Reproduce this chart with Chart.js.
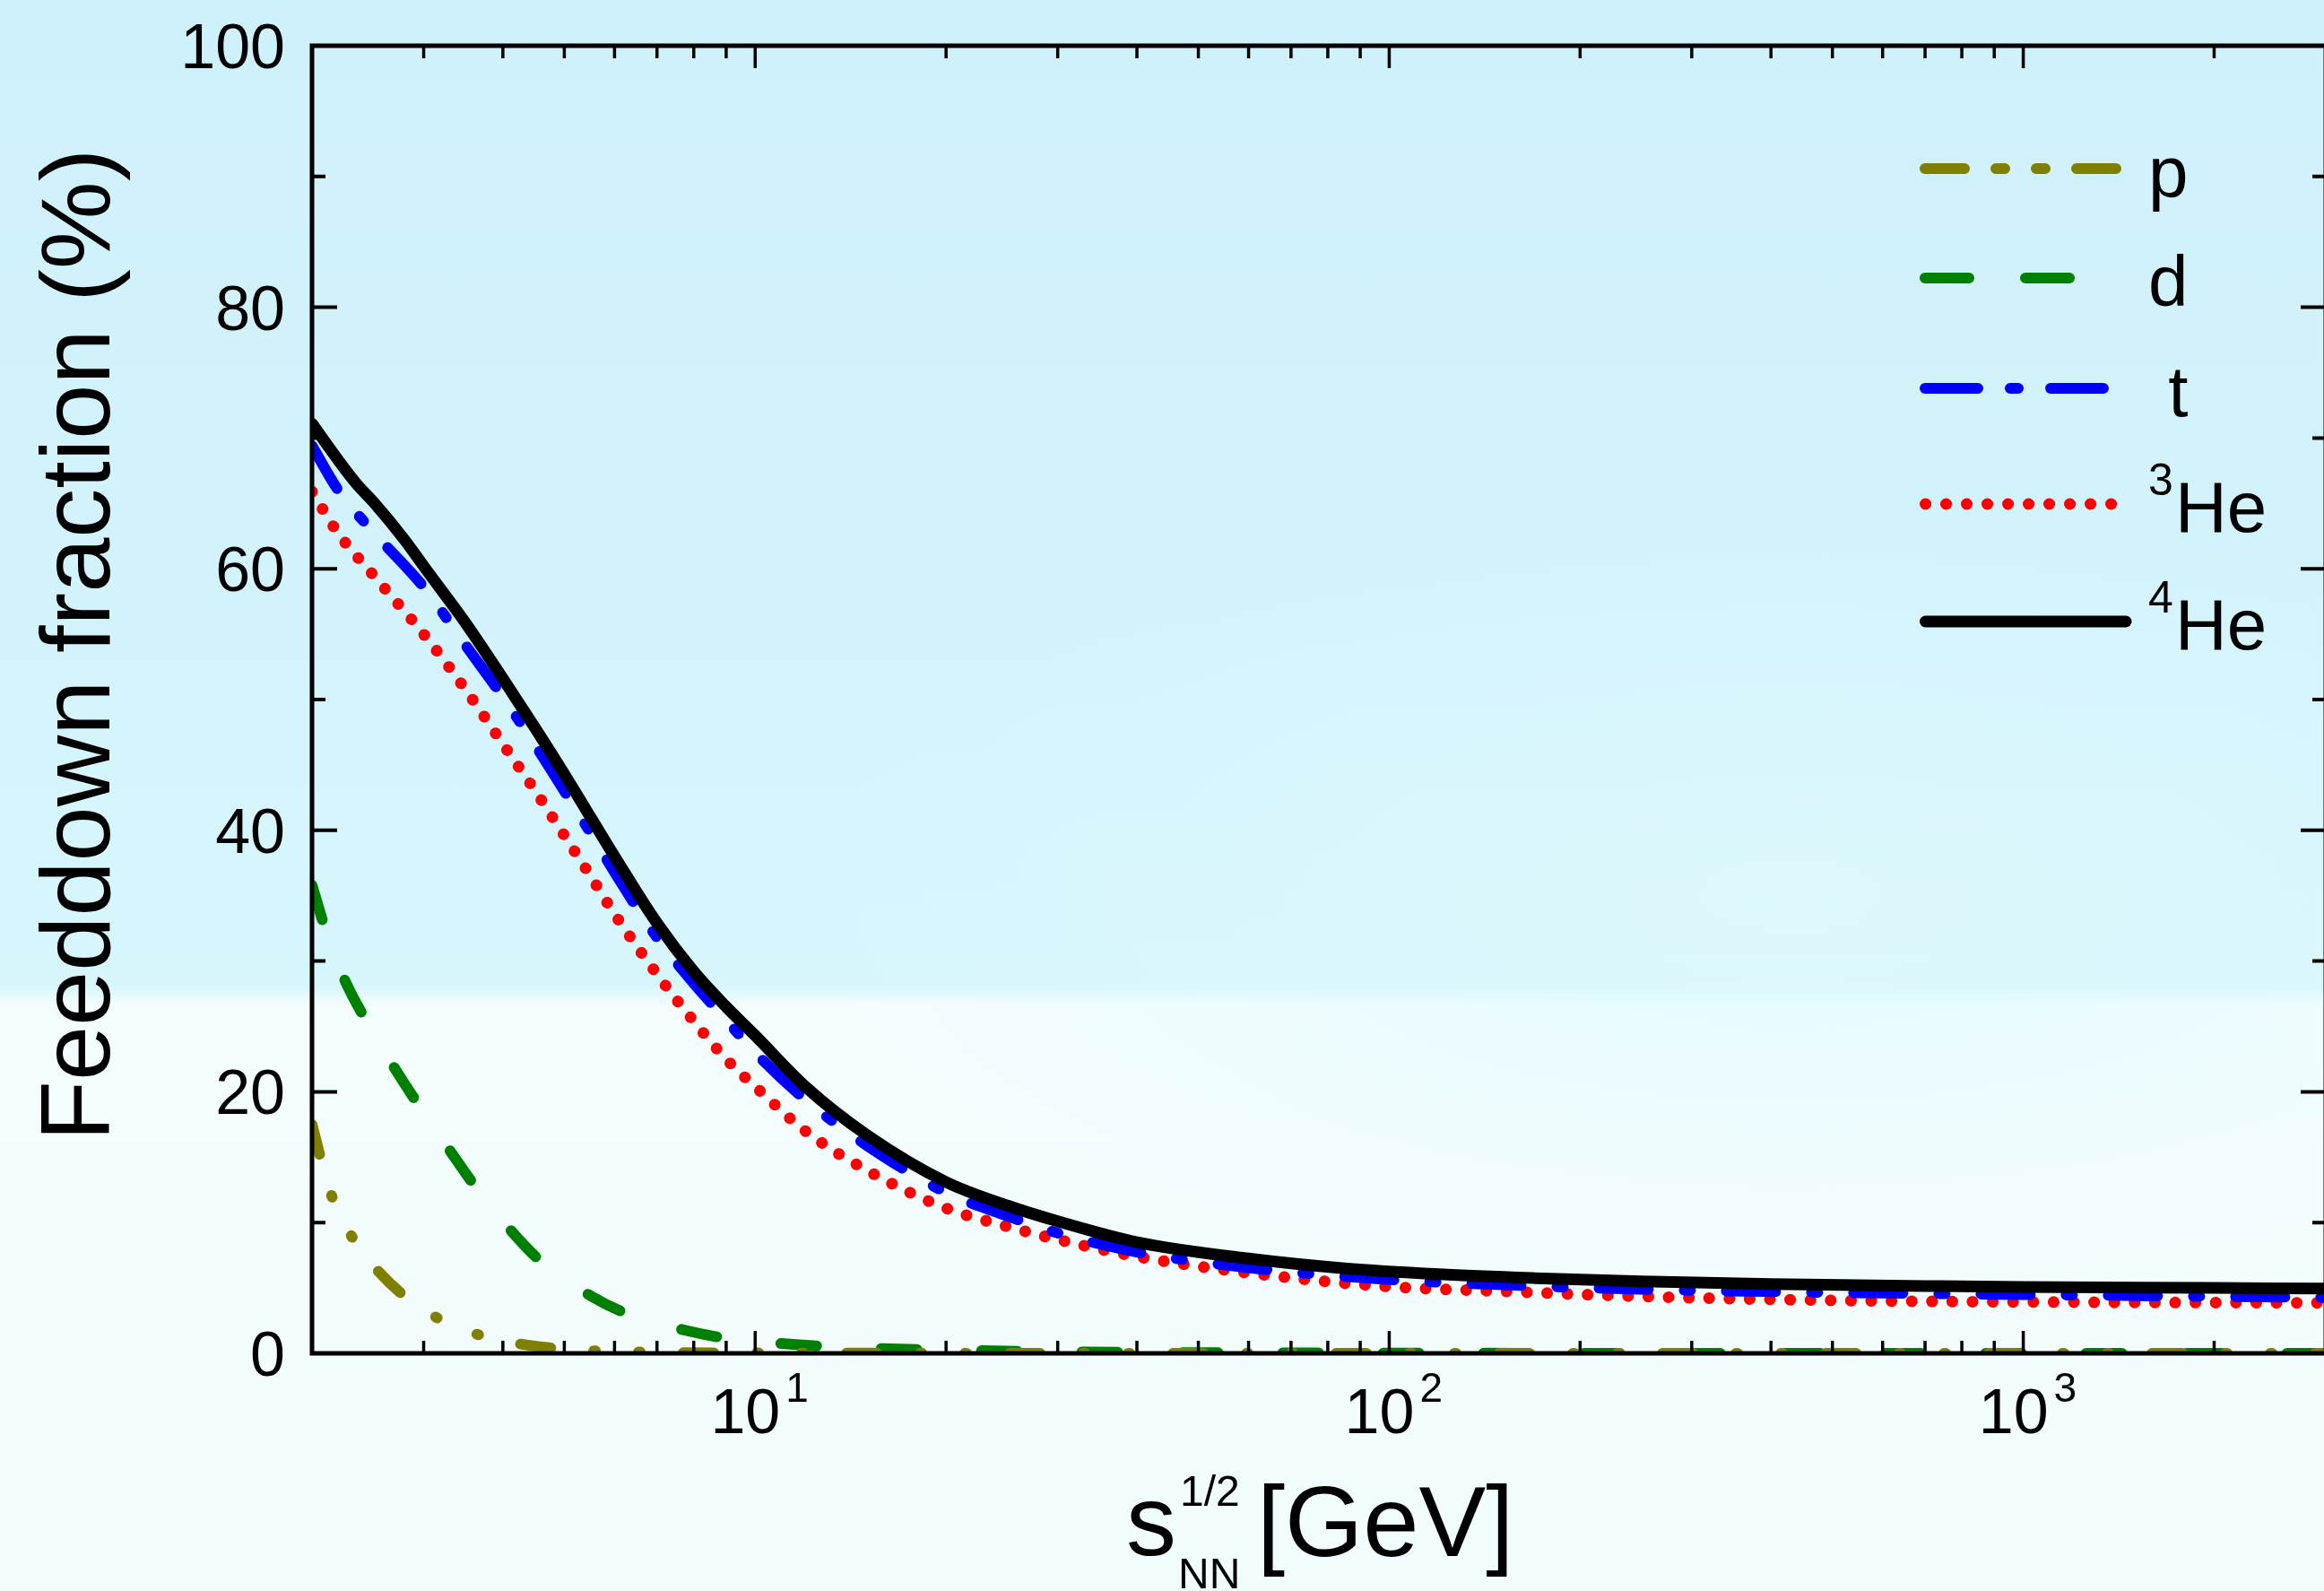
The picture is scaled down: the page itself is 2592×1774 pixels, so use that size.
<!DOCTYPE html>
<html>
<head>
<meta charset="utf-8">
<title>Feeddown fraction</title>
<script src="https://cdn.jsdelivr.net/npm/chart.js@4.4.1/dist/chart.umd.min.js"></script>
<style>
  html, body { margin: 0; padding: 0; overflow: hidden; }
  body {
    width: 2592px;
    height: 1774px;
    background:
      radial-gradient(ellipse 1100px 420px at 2000px 1000px, rgba(222, 249, 253, 0.75), rgba(222, 249, 253, 0)),
      linear-gradient(180deg, #cff1fb 0px, #d3f3fc 650px, #d7f6fc 1100px, #f4fdfe 1120px, #f1fcfd 1774px);
  }
  #wrap { width: 2592px; height: 1774px; overflow: hidden; }
</style>
</head>
<body>
<div id="wrap"><canvas id="chart" width="2600" height="1774"></canvas></div>
<script>
// sqrt(s_NN) in GeV and feeddown fraction in %
const pX = [2.0, 2.08, 2.15, 2.3, 2.5, 2.77, 3.05, 3.47, 4.0, 4.7, 5.5, 7, 10, 20, 50, 3000];
const pY = [17.5, 14.3, 12.0, 9.1, 6.7, 4.55, 3.1, 1.8, 0.96, 0.44, 0.2, 0.08, 0.03, 0.01, 0, 0];

const dX = [2.0, 2.1, 2.25, 2.45, 2.7, 3.0, 3.3, 3.6, 4.1, 4.6, 5.5, 6.3, 7.7, 9.0, 11, 13.3, 20, 30, 50, 100, 300, 3000];
const dY = [35.8, 32.4, 28.6, 25.2, 21.8, 18.4, 15.5, 12.9, 9.5, 7.0, 4.4, 3.0, 1.8, 1.15, 0.75, 0.5, 0.25, 0.12, 0.05, 0.02, 0, 0];

const tX = [2.0, 2.2, 2.5, 3.0, 3.5, 4.0, 4.5, 5.0, 5.5, 6.0, 7.0, 8.0, 9.0, 10, 12, 15, 20, 25, 30, 40, 60, 100, 170, 250, 400, 1000, 3000];
const tY = [69.4, 66.0, 62.8, 58.6, 54.1, 50.2, 46.5, 43.0, 39.8, 36.8, 31.8, 28.3, 25.5, 23.0, 19.4, 15.9, 12.3, 10.5, 9.2, 7.75, 6.55, 5.64, 5.15, 4.9, 4.72, 4.5, 4.27];

const he3X = [2.0, 2.2, 2.5, 3.0, 3.5, 4.0, 4.5, 5.0, 5.5, 6.0, 7.0, 8.0, 9.0, 10, 12, 15, 20, 25, 30, 40, 60, 100, 150, 250, 500, 1000, 3000];
const he3Y = [65.9, 62.7, 59.5, 55.0, 50.7, 46.6, 43.0, 39.6, 36.5, 33.6, 29.0, 25.4, 22.5, 20.4, 17.0, 14.0, 11.1, 9.7, 8.7, 7.4, 6.15, 5.1, 4.75, 4.35, 4.05, 3.93, 3.86];

const he4X = [2.0, 2.2, 2.35, 2.5, 2.8, 3.0, 3.5, 4.0, 4.5, 5.0, 5.5, 6.0, 7.0, 8.0, 9.0, 10, 12, 15, 20, 25, 30, 40, 60, 85, 120, 170, 250, 400, 700, 1000, 2000, 3000];
const he4Y = [71.1, 68.3, 66.5, 65.1, 62.2, 60.2, 55.8, 51.6, 47.8, 44.3, 41.0, 38.0, 32.9, 29.2, 26.5, 24.3, 20.4, 16.7, 13.1, 11.3, 10.1, 8.5, 7.25, 6.5, 6.05, 5.75, 5.5, 5.3, 5.15, 5.07, 5.0, 4.96];

const yMajorTicks = [0, 20, 40, 60, 80, 100];
const yMinorTicks = [10, 30, 50, 70, 90];
const xMajorTicks = [10, 100, 1000];
const xMajorLabels = ['1', '2', '3'];
const xMinorTicks = [3, 4, 5, 6, 7, 8, 9, 20, 30, 40, 50, 60, 70, 80, 90, 200, 300, 400, 500, 600, 700, 800, 900, 2000];

const FONT = '"Liberation Sans", Arial, sans-serif';

const pts = (xs, ys) => xs.map((v, i) => ({ x: v, y: ys[i] }));

const series = [
	{ sup: '', text: 'p', color: '#808000', width: 12, dash: [34, 48, 2, 48, 2, 48], legendDash: [44, 35, 10, 35, 10, 35], legendEnd: 2361, ly: 188, data: pts(pX, pY), order: 3 },
	{ sup: '', text: 'd', color: '#008000', width: 12, dash: [40, 72], legendDash: [49, 63], legendEnd: 2309, ly: 310, data: pts(dX, dY), order: 4 },
	{ sup: '', text: ' t', color: '#0000ff', width: 12, dash: [55, 40, 7, 40], legendDash: [59, 36, 9, 36], legendEnd: 2347, ly: 433, data: pts(tX, tY), order: 1 },
	{ sup: '3', text: 'He', color: '#ff0000', width: 13, dash: [0.1, 22.5], legendDash: [0.1, 22.9], legendEnd: 2355, ly: 562, data: pts(he3X, he3Y), order: 2 },
	{ sup: '4', text: 'He', color: '#000000', width: 13, dash: [], legendDash: [], legendEnd: 2371, ly: 693, data: pts(he4X, he4Y), order: 0 },
];

const frame = {
	id: 'frame',
	afterDatasetsDraw(chart) {
		const { ctx, chartArea: a, scales: { x, y } } = chart;
		ctx.save();
		ctx.strokeStyle = '#000';
		ctx.lineCap = 'butt';
		ctx.setLineDash([]);

		// inward ticks on all four sides
		ctx.lineWidth = 4;
		ctx.beginPath();
		yMajorTicks.forEach((v) => {
			const py = y.getPixelForValue(v);
			ctx.moveTo(a.left, py); ctx.lineTo(a.left + 28, py);
			ctx.moveTo(a.right, py); ctx.lineTo(a.right - 28, py);
		});
		yMinorTicks.forEach((v) => {
			const py = y.getPixelForValue(v);
			ctx.moveTo(a.left, py); ctx.lineTo(a.left + 15, py);
			ctx.moveTo(a.right, py); ctx.lineTo(a.right - 15, py);
		});
		ctx.stroke();

		ctx.lineWidth = 3.5;
		ctx.beginPath();
		xMajorTicks.forEach((v) => {
			const px = x.getPixelForValue(v);
			ctx.moveTo(px, a.bottom); ctx.lineTo(px, a.bottom - 25);
			ctx.moveTo(px, a.top); ctx.lineTo(px, a.top + 25);
		});
		xMinorTicks.forEach((v) => {
			const px = x.getPixelForValue(v);
			ctx.moveTo(px, a.bottom); ctx.lineTo(px, a.bottom - 14);
			ctx.moveTo(px, a.top); ctx.lineTo(px, a.top + 14);
		});
		ctx.stroke();

		ctx.lineWidth = 5;
		ctx.strokeRect(a.left, a.top, a.right - a.left, a.bottom - a.top);
		ctx.restore();
	},
	afterDraw(chart) {
		const { ctx, scales: { x, y } } = chart;
		ctx.save();
		ctx.fillStyle = '#000';
		ctx.textBaseline = 'alphabetic';

		// y tick labels
		ctx.font = '70px ' + FONT;
		ctx.textAlign = 'right';
		yMajorTicks.forEach((v) => {
			ctx.fillText(String(v), 318, y.getPixelForValue(v) + 25);
		});

		// x tick labels 10^n
		xMajorTicks.forEach((v, i) => {
			const px = x.getPixelForValue(v);
			ctx.font = '70px ' + FONT;
			ctx.textAlign = 'right';
			ctx.fillText('10', px + 28, 1598);
			ctx.font = '46px ' + FONT;
			ctx.textAlign = 'left';
			ctx.fillText(xMajorLabels[i], px + 34, 1563);
		});

		// y axis title
		ctx.save();
		ctx.translate(122, 719);
		ctx.rotate(-Math.PI / 2);
		ctx.font = '110px ' + FONT;
		ctx.textAlign = 'center';
		ctx.fillText('Feeddown fraction (%)', 0, 0);
		ctx.restore();

		// x axis title: s_NN^(1/2) [GeV]
		ctx.textAlign = 'left';
		ctx.font = '112px ' + FONT;
		ctx.fillText('s', 1256, 1734);
		ctx.font = '48px ' + FONT;
		ctx.fillText('1/2', 1316, 1679);
		ctx.fillText('NN', 1314, 1771);
		ctx.font = '112px ' + FONT;
		ctx.fillText('[GeV]', 1402, 1735);

		// legend
		series.forEach((s) => {
			ctx.save();
			ctx.strokeStyle = s.color;
			ctx.lineWidth = s.width;
			ctx.lineCap = 'round';
			ctx.setLineDash(s.legendDash);
			ctx.beginPath();
			ctx.moveTo(2141 + s.width / 2, s.ly);
			ctx.lineTo(s.legendEnd, s.ly);
			ctx.stroke();
			ctx.restore();

			let tx = 2396;
			if (s.sup) {
				ctx.font = '50px ' + FONT;
				ctx.fillText(s.sup, tx, s.ly - 10);
				tx += 30;
			}
			ctx.font = '80px ' + FONT;
			ctx.fillText(s.text, tx, s.ly + 31);
		});
		ctx.restore();
	},
};

new Chart(document.getElementById('chart'), {
	type: 'line',
	data: {
		datasets: series.map((s) => ({
			label: s.sup + s.text,
			data: s.data,
			borderColor: s.color,
			borderWidth: s.width,
			borderDash: s.dash,
			borderCapStyle: 'round',
			borderJoinStyle: 'round',
			pointRadius: 0,
			cubicInterpolationMode: 'monotone',
			clip: 0,
			order: s.order,
		})),
	},
	options: {
		responsive: false,
		animation: false,
		events: [],
		layout: { padding: { left: 348, top: 51, right: 6, bottom: 265 } },
		scales: {
			x: { type: 'logarithmic', min: 2, max: 3000, display: false },
			y: { type: 'linear', min: 0, max: 100, display: false },
		},
		plugins: {
			legend: { display: false },
			tooltip: { enabled: false },
		},
	},
	plugins: [frame],
});
</script>
</body>
</html>
